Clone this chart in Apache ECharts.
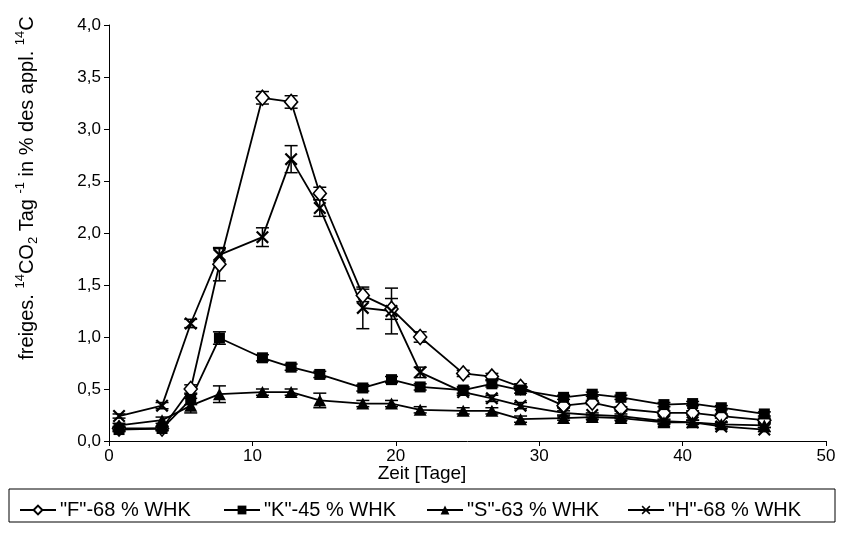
<!DOCTYPE html>
<html>
<head>
<meta charset="utf-8">
<script src="https://cdn.jsdelivr.net/npm/echarts@6/dist/echarts.min.js"></script>
<style>
html,body{margin:0;padding:0;background:#fff;}
#chart{width:843px;height:558px;}
</style>
</head>
<body>
<div id="chart"></div>
<script>
// Sampling days
var days = [0.7, 3.7, 5.7, 7.7, 10.7, 12.7, 14.7, 17.7, 19.7, 21.7, 24.7, 26.7, 28.7, 31.7, 33.7, 35.7, 38.7, 40.7, 42.7, 45.7];

// Released 14CO2 per day (% of applied 14C)
var seriesF = [0.12, 0.12, 0.50, 1.70, 3.30, 3.26, 2.38, 1.40, 1.27, 1.00, 0.65, 0.62, 0.52, 0.34, 0.37, 0.31, 0.27, 0.27, 0.24, 0.20];
var seriesK = [0.11, 0.12, 0.40, 0.99, 0.80, 0.71, 0.64, 0.51, 0.59, 0.52, 0.49, 0.55, 0.49, 0.42, 0.45, 0.42, 0.35, 0.36, 0.32, 0.26];
var seriesS = [0.15, 0.20, 0.34, 0.45, 0.47, 0.47, 0.39, 0.36, 0.36, 0.30, 0.29, 0.29, 0.21, 0.22, 0.23, 0.22, 0.18, 0.18, 0.16, 0.15];
var seriesH = [0.24, 0.34, 1.13, 1.79, 1.96, 2.71, 2.24, 1.28, 1.25, 0.66, 0.47, 0.41, 0.34, 0.27, 0.25, 0.24, 0.19, 0.18, 0.14, 0.11];

// Standard deviations (± error)
var errF = [0.02, 0.02, 0.04, 0.16, 0.06, 0.06, 0.06, 0.06, 0.10, 0.05, 0.03, 0.03, 0.03, 0.02, 0.02, 0.02, 0.02, 0.02, 0.02, 0.02];
var errK = [0.02, 0.02, 0.05, 0.06, 0.03, 0.03, 0.03, 0.03, 0.03, 0.03, 0.03, 0.03, 0.03, 0.02, 0.02, 0.02, 0.02, 0.02, 0.02, 0.02];
var errS = [0.02, 0.03, 0.07, 0.08, 0.03, 0.03, 0.07, 0.03, 0.03, 0.03, 0.03, 0.03, 0.03, 0.02, 0.02, 0.02, 0.02, 0.02, 0.02, 0.02];
var errH = [0.02, 0.03, 0.04, 0.06, 0.09, 0.13, 0.08, 0.20, 0.22, 0.05, 0.03, 0.03, 0.03, 0.02, 0.02, 0.02, 0.02, 0.02, 0.02, 0.02];

var names = ['"F"-68 % WHK', '"K"-45 % WHK', '"S"-63 % WHK', '"H"-68 % WHK'];

// Axis ticks
var xMin = 0, xMax = 50, xStep = 10;
var yMin = 0, yMax = 4, yStep = 0.5;

var FONT = 'Liberation Sans, Arial, sans-serif';
var crossPath = 'path://M0,1.2 L1.2,0 L10,8.8 L8.8,10 Z M8.8,0 L10,1.2 L1.2,10 L0,8.8 Z';

function pairs(vals) {
  return days.map(function (d, i) { return [d, vals[i]]; });
}
function errRows(vals, errs) {
  return days.map(function (d, i) { return [d, vals[i], errs[i]]; });
}

function errorBarSeries(vals, errs) {
  return {
    type: 'custom',
    silent: true,
    z: 1,
    data: errRows(vals, errs),
    renderItem: function (params, api) {
      var x = api.value(0), v = api.value(1), e = api.value(2);
      var top = api.coord([x, v + e]);
      var bot = api.coord([x, v - e]);
      var hw = 6.5;
      var st = { stroke: '#000', lineWidth: 1.5 };
      return {
        type: 'group',
        children: [
          { type: 'line', shape: { x1: top[0], y1: top[1], x2: bot[0], y2: bot[1] }, style: st },
          { type: 'line', shape: { x1: top[0] - hw, y1: top[1], x2: top[0] + hw, y2: top[1] }, style: st },
          { type: 'line', shape: { x1: bot[0] - hw, y1: bot[1], x2: bot[0] + hw, y2: bot[1] }, style: st }
        ]
      };
    }
  };
}

function lineSeries(name, vals, symbol, size, fill) {
  return {
    name: name,
    type: 'line',
    z: 3,
    data: pairs(vals),
    symbol: symbol,
    symbolSize: size,
    showAllSymbol: true,
    lineStyle: { color: '#000', width: 1.8 },
    itemStyle: { color: fill, borderColor: '#000', borderWidth: fill === '#fff' ? 1.6 : 0 },
    emphasis: { disabled: true },
    animation: false
  };
}

var chart = echarts.init(document.getElementById('chart'), null, { renderer: 'canvas' });

function legendAt(name, left) {
  return {
    data: [name],
    left: left,
    top: 495,
    itemWidth: 36,
    itemHeight: 11,
    itemGap: 0,
    textStyle: { fontFamily: FONT, fontSize: 20, color: '#000', padding: [0, 0, 0, -1] },
    selectedMode: false
  };
}

chart.setOption({
  animation: false,
  backgroundColor: '#fff',
  grid: { left: 109, right: 17, top: 25, bottom: 117 },
  xAxis: {
    type: 'value',
    min: xMin, max: xMax, interval: xStep,
    axisLine: { lineStyle: { color: '#000', width: 1 } },
    axisTick: { show: true, length: 5, lineStyle: { color: '#000' } },
    splitLine: { show: false },
    axisLabel: { color: '#000', fontFamily: FONT, fontSize: 17, margin: 7 }
  },
  yAxis: {
    type: 'value',
    min: yMin, max: yMax, interval: yStep,
    axisLine: { show: true, lineStyle: { color: '#000', width: 1 } },
    axisTick: { show: true, length: 5, lineStyle: { color: '#000' } },
    splitLine: { show: false },
    axisLabel: {
      color: '#000', fontFamily: FONT, fontSize: 17, margin: 8,
      formatter: function (v) { return v.toFixed(1).replace('.', ','); }
    }
  },
  legend: [
    legendAt(names[0], 14),
    legendAt(names[1], 218),
    legendAt(names[2], 421),
    legendAt(names[3], 622)
  ],
  graphic: [
    {
      type: 'rect',
      shape: { x: 9, y: 489, width: 826, height: 33 },
      style: { fill: 'none', stroke: '#000', lineWidth: 1 }
    },
    {
      type: 'text',
      x: 422, y: 474,
      style: {
        text: 'Zeit [Tage]',
        align: 'center',
        verticalAlign: 'middle',
        fill: '#000',
        font: '19px ' + FONT
      }
    },
    {
      type: 'text',
      x: 27, y: 188,
      rotation: Math.PI / 2,
      style: {
        text: '{n|freiges. }{sup|14}{n|CO}{sub|2}{n| Tag }{sup|-1}{n| in % des appl. }{sup|14}{n|C}',
        align: 'center',
        verticalAlign: 'middle',
        fill: '#000',
        font: '20px ' + FONT,
        rich: {
          n: { fontSize: 20, fontFamily: FONT, lineHeight: 26, verticalAlign: 'middle' },
          sup: { fontSize: 13, fontFamily: FONT, lineHeight: 13, verticalAlign: 'top' },
          sub: { fontSize: 13, fontFamily: FONT, lineHeight: 13, verticalAlign: 'bottom' }
        }
      }
    }
  ],
  series: [
    errorBarSeries(seriesF, errF),
    errorBarSeries(seriesK, errK),
    errorBarSeries(seriesS, errS),
    errorBarSeries(seriesH, errH),
    lineSeries(names[0], seriesF, 'diamond', [13, 15], '#fff'),
    lineSeries(names[1], seriesK, 'rect', 11, '#000'),
    lineSeries(names[2], seriesS, 'triangle', [13, 12], '#000'),
    lineSeries(names[3], seriesH, crossPath, 13, '#000')
  ]
});
</script>
</body>
</html>
